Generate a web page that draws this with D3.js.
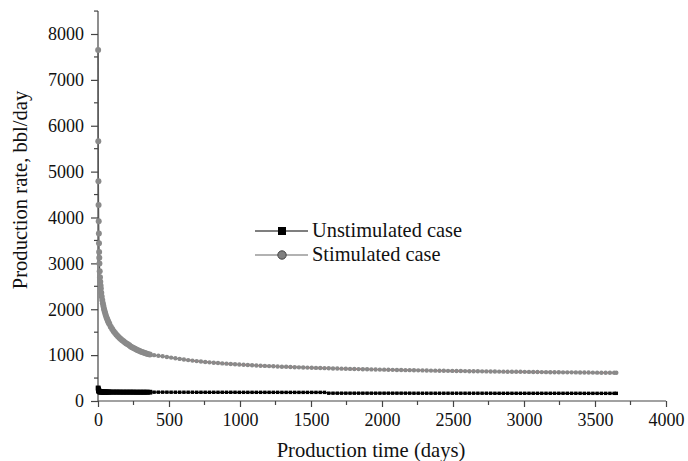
<!DOCTYPE html>
<html>
<head>
<meta charset="utf-8">
<script src="https://cdn.jsdelivr.net/npm/d3@7"></script>
<style>
  html, body { margin: 0; padding: 0; background: #fff; }
  svg { display: block; font-family: "Liberation Serif", "Times New Roman", serif; }
</style>
</head>
<body>
<svg id="chart" width="688" height="461"></svg>
<script>
// ---------------- DATA ----------------
const days = [
  1,2,3,4,5,6,7,8,9,10,12,14,16,18,20,23,26,30,34,38,42,46,50,55,60,65,70,75,80,
  90,100,110,120,130,140,150,160,170,180,190,200,210,220,230,240,250,260,270,280,
  290,300,310,320,330,340,350,365,
  395,425,455,485,515,545,575,605,635,665,695,725,755,785,815,845,875,905,935,965,
  995,1025,1055,1085,1115,1145,1175,1205,1235,1265,1295,1325,1355,1385,1415,1445,
  1475,1505,1535,1565,1595,1625,1655,1685,1715,1745,1775,1805,1835,1865,1895,1925,
  1955,1985,2015,2045,2075,2105,2135,2165,2195,2225,2255,2285,2315,2345,2375,2405,
  2435,2465,2495,2525,2555,2585,2615,2645,2675,2705,2735,2765,2795,2825,2855,2885,
  2915,2945,2975,3005,3035,3065,3095,3125,3155,3185,3215,3245,3275,3305,3335,3365,
  3395,3425,3455,3485,3515,3545,3575,3605,3635,3650
];

const stimulated = [
  7650,5660,4790,4270,3920,3650,3440,3250,3120,3000,2830,2700,2600,2520,2450,2360,2280,2200,2130,2070,2010,1960,1920,1870,1820,1780,1745,1710,1680,
  1620,1570,1520,1480,1445,1410,1380,1350,1325,1300,1275,1255,1235,1215,1190,1172,1155,1138,1122,1107,
  1093,1080,1068,1057,1046,1036,1027,1016,
  1000,987,974,960,946,932,918,905,892,881,870,860,851,843,835,827,820,814,807,801,
  795,790,784,779,774,770,765,761,756,752,748,745,741,737,734,731,
  728,725,721,719,716,713,710,708,705,703,700,698,695,693,691,689,
  687,685,683,681,679,677,675,673,672,670,668,667,665,663,662,660,
  659,657,656,654,653,652,650,649,648,646,645,644,643,641,640,639,
  638,637,636,635,634,632,631,630,629,628,627,626,625,624,624,623,
  622,621,620,619,618,617,617,616,615,615
];

const unstimulated = [
  285,266,251,239,229,221,215,210,207,204,202,200,199,198,198,197,197,197,196,196,196,196,196,195,195,195,195,195,195,
  194,194,194,194,194,194,194,193,193,193,193,193,193,193,193,193,193,192,192,192,
  192,192,192,192,192,192,192,192,
  192,192,192,192,191,191,191,191,191,191,190,190,190,190,190,190,190,190,190,190,
  189,189,189,189,189,189,189,189,189,189,188,188,188,188,188,188,
  188,188,188,188,188,170,170,170,170,170,170,170,170,170,170,170,
  170,170,170,170,170,170,170,170,170,169,169,169,169,169,169,169,
  169,169,169,169,169,169,169,169,169,169,169,169,168,168,168,168,
  168,168,168,168,168,168,168,168,168,168,168,168,168,168,168,168,
  168,167,167,167,167,167,167,167,167,167
];

const xTicks = [0,500,1000,1500,2000,2500,3000,3500,4000];
const yTicks = [0,1000,2000,3000,4000,5000,6000,7000,8000];
const seriesNames = ["Unstimulated case", "Stimulated case"];
const xTitle = "Production time (days)";
const yTitle = "Production rate, bbl/day";
const redFromDay = 605;
const denseUntilDay = 365;

// ---------------- CHART ----------------
const svg = d3.select("#chart");
const x = d3.scaleLinear().domain([0, 4000]).range([98, 666]);
const y = d3.scaleLinear().domain([0, 8000]).range([401, 34]);
const axisColor = "#444";

const xMinor = d3.range(250, 4000, 500);
const yMinor = d3.range(500, 8501, 1000);

// X axis
const gx = svg.append("g").attr("transform", `translate(0,${y(0)})`);
gx.append("line").attr("x1", x(0)).attr("x2", x(4000)).attr("stroke", axisColor).attr("stroke-width", 1.2);
gx.selectAll(".minor").data(xMinor).join("line")
  .attr("x1", d => x(d)).attr("x2", d => x(d)).attr("y1", 0).attr("y2", 4)
  .attr("stroke", axisColor).attr("stroke-width", 1.2);
const xAxis = d3.axisBottom(x).tickValues(xTicks).tickSize(6).tickPadding(6).tickFormat(d3.format("d"));
const gxa = svg.append("g").attr("transform", `translate(0,${y(0)})`).call(xAxis);
gxa.select(".domain").remove();
gxa.selectAll(".tick line").attr("stroke", axisColor).attr("stroke-width", 1.2);
gxa.selectAll(".tick text").attr("font-size", 18).attr("font-family", "Liberation Serif").attr("fill", "#111");

// Y axis
const gy = svg.append("g").attr("transform", `translate(${x(0)},0)`);
gy.append("line").attr("y1", y(0)).attr("y2", y(8500)).attr("stroke", axisColor).attr("stroke-width", 1.2);
gy.selectAll(".minor").data(yMinor).join("line")
  .attr("y1", d => y(d)).attr("y2", d => y(d)).attr("x1", 0).attr("x2", -4)
  .attr("stroke", axisColor).attr("stroke-width", 1.2);
const yAxis = d3.axisLeft(y).tickValues(yTicks).tickSize(7).tickPadding(7).tickFormat(d3.format("d"));
const gya = svg.append("g").attr("transform", `translate(${x(0)},0)`).call(yAxis);
gya.select(".domain").remove();
gya.selectAll(".tick line").attr("stroke", axisColor).attr("stroke-width", 1.2);
gya.selectAll(".tick text").attr("font-size", 18).attr("font-family", "Liberation Serif").attr("fill", "#111");

// Titles
svg.append("text").attr("x", 371).attr("y", 457).attr("text-anchor", "middle")
  .attr("font-size", 20.6).attr("fill", "#111").text(xTitle);
svg.append("text").attr("transform", "translate(27,190) rotate(-90)").attr("text-anchor", "middle")
  .attr("font-size", 20.6).attr("fill", "#111").text(yTitle);

// Data
const stimData = days.map((d, i) => ({ t: d, v: stimulated[i] }));
const unstData = days.map((d, i) => ({ t: d, v: unstimulated[i] }));
const line = d3.line().x(d => x(d.t)).y(d => y(d.v));

svg.append("path").datum(stimData).attr("d", line).attr("fill", "none")
  .attr("stroke", "#555").attr("stroke-width", 1.2);
svg.append("path").datum(stimData.filter(d => d.t >= redFromDay)).attr("d", line).attr("fill", "none")
  .attr("stroke", "#e05050").attr("stroke-width", 1);
svg.append("g").selectAll("circle").data(stimData).join("circle")
  .attr("cx", d => x(d.t)).attr("cy", d => y(d.v))
  .attr("r", d => d.t <= denseUntilDay ? 3 : 2.2)
  .attr("fill", "#8a8a8a");

svg.append("path").datum(unstData).attr("d", line).attr("fill", "none")
  .attr("stroke", "#000").attr("stroke-width", 1.2);
svg.append("g").selectAll("rect").data(unstData).join("rect")
  .attr("x", d => x(d.t) - (d.t <= denseUntilDay ? 2.4 : 1.7))
  .attr("y", d => y(d.v) - (d.t <= denseUntilDay ? 2.4 : 1.7))
  .attr("width", d => d.t <= denseUntilDay ? 4.8 : 3.4)
  .attr("height", d => d.t <= denseUntilDay ? 4.8 : 3.4)
  .attr("fill", "#000");

// Legend
const leg = svg.append("g");
const legRows = [
  { name: seriesNames[0], y: 231, color: "#000", mark: "square" },
  { name: seriesNames[1], y: 255, color: "#666", mark: "circle" }
];
legRows.forEach(r => {
  leg.append("line").attr("x1", 255).attr("x2", 308).attr("y1", r.y).attr("y2", r.y)
    .attr("stroke", r.color).attr("stroke-width", 1.2);
  if (r.mark === "square") {
    leg.append("rect").attr("x", 278).attr("y", r.y - 4).attr("width", 8).attr("height", 8).attr("fill", "#000");
  } else {
    leg.append("circle").attr("cx", 282).attr("cy", r.y).attr("r", 4.2)
      .attr("fill", "#808080").attr("stroke", "#444").attr("stroke-width", 1);
  }
  leg.append("text").attr("x", 312).attr("y", r.y + 6).attr("font-size", 20.4).attr("fill", "#111").text(r.name);
});
</script>
</body>
</html>
